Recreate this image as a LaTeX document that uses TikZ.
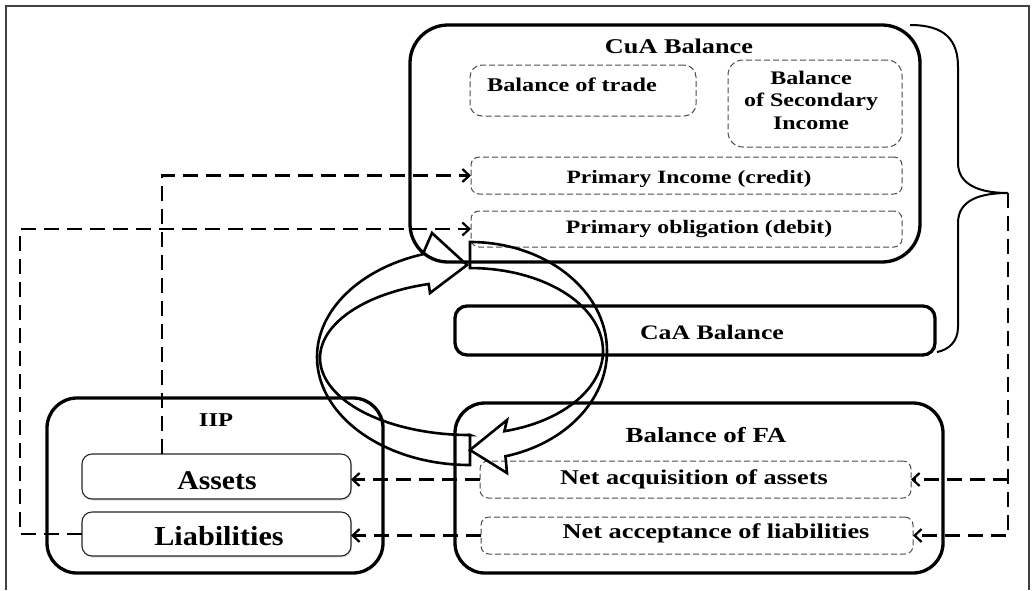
\documentclass[tikz,border=0pt]{standalone}
\usepackage{fontspec}
\setmainfont{Liberation Serif}
\newfontfamily\widea[FakeStretch=1.25]{Liberation Serif}
\newfontfamily\wideb[FakeStretch=1.1]{Liberation Serif}
\usetikzlibrary{arrows.meta,calc,shadows}

\begin{document}
\begin{tikzpicture}[x=1pt,y=-1pt,
  bigbox/.style={draw, line width=3.3pt, rounded corners=#1, inner sep=0pt, outer sep=0pt},
  bigbox/.default=30pt,
  dbox/.style={draw=black!70, line width=1pt, dash pattern=on 6pt off 3pt,
    rounded corners=#1, inner sep=0pt, outer sep=0pt},
  dbox/.default=8pt,
  sbox/.style={draw=black!85, line width=1.1pt, rounded corners=10pt, fill=white,
    inner sep=0pt, outer sep=0pt,
    drop shadow={opacity=0.25, shadow xshift=1.2pt, shadow yshift=-1.5pt}},
  lbl/.style={inner sep=0pt, anchor=base, text=black},
  conn/.style={line width=2.2pt, dash pattern=on 15pt off 8pt,
    -{Straight Barb[length=7pt,width=13pt]}},
  cyc/.style={line width=2.6pt, line join=miter},
]
\useasboundingbox (0,0) rectangle (1033,590);

% page frame
\draw[line width=1.5pt, black!75] (6,590) -- (6,6) -- (1029,6) -- (1029,590);

% current account
\node[bigbox=38pt, minimum width=510pt, minimum height=237pt] (cua) at (665,143.5) {};
\node[dbox=12pt, minimum width=226pt, minimum height=51pt] (bot) at (583,90.5) {};
\node[dbox=15pt, minimum width=174pt, minimum height=87pt] (bsi) at (815,103.5) {};
\node[dbox, minimum width=431pt, minimum height=37pt] (pic) at (686.5,175.5) {};
\node[dbox, minimum width=431pt, minimum height=36pt] (pob) at (686.5,229) {};

% capital account
\node[bigbox=12pt, minimum width=480pt, minimum height=49pt] (caa) at (695,330.5) {};

% international investment position
\node[bigbox=30pt, minimum width=336pt, minimum height=175pt] (iip) at (215,485.5) {};
\node[sbox, minimum width=269pt, minimum height=45pt] (assets) at (216.5,476.5) {};
\node[sbox, minimum width=269pt, minimum height=44pt] (liab) at (216.5,534) {};

% financial account
\node[bigbox=30pt, minimum width=488pt, minimum height=170pt] (fa) at (699,488) {};
\node[dbox, minimum width=431pt, minimum height=37pt] (nacq) at (695.5,479.5) {};
\node[dbox, minimum width=432pt, minimum height=37pt] (nacc) at (697,535.5) {};

% labels
\node[lbl, font=\widea\bfseries\fontsize{21}{24}\selectfont] (cuat) at (679,53) {CuA Balance};
\node[lbl, font=\widea\bfseries\fontsize{19.4}{22}\selectfont] (bott) at (572,91) {Balance of trade};
\node[font=\widea\bfseries\fontsize{19.2}{22.5}\selectfont, align=center, inner sep=0pt] (bsit) at (811,100) {Balance\\of Secondary\\Income};
\node[lbl, font=\widea\bfseries\fontsize{18.8}{22}\selectfont] (pict) at (689,183) {Primary Income (credit)};
\node[lbl, font=\widea\bfseries\fontsize{19}{22}\selectfont] (pobt) at (699,233) {Primary obligation (debit)};
\node[lbl, font=\widea\bfseries\fontsize{20.6}{24}\selectfont] (caat) at (712,339) {CaA Balance};
\node[lbl, font=\widea\bfseries\fontsize{19.6}{23}\selectfont] (iipt) at (216,426) {IIP};
\node[lbl, font=\wideb\bfseries\fontsize{27}{30}\selectfont] (at) at (217,489) {Assets};
\node[lbl, font=\wideb\bfseries\fontsize{27.5}{30}\selectfont] (lt) at (219,545) {Liabilities};
\node[lbl, font=\widea\bfseries\fontsize{21.5}{24}\selectfont] (fat) at (706,442) {Balance of FA};
\node[lbl, font=\widea\bfseries\fontsize{21}{24}\selectfont] (nacqt) at (694,484) {Net acquisition of assets};
\node[lbl, font=\widea\bfseries\fontsize{21.1}{24}\selectfont] (nacct) at (716,538) {Net acceptance of liabilities};

% brace grouping the current and capital accounts
\coordinate (tip) at (1008,193);
\draw[line width=2pt] (910,25) .. controls (945,25) and (958,40) .. (958,67)
  -- (958,163) .. controls (958,185) and (980,193) .. (tip)
  .. controls (980,193) and (958,200) .. (958,223)
  -- (958,327) .. controls (958,342) and (948,350) .. (937,352);

% dashed flows
\coordinate (lft) at (20,0);
\draw[conn] ([xshift=80pt]assets.north west) |- (pic.west);
\draw[conn] (liab.west) -- (liab.west -| lft) |- (pob.west);
\draw[conn] (nacq.west) -- (nacq.west -| assets.east);
\draw[conn] (nacc.west) -- (nacc.west -| liab.east);
\draw[conn] (tip) |- (nacc.east);
\draw[conn] (tip |- nacq.east) -- (nacq.east);

% circular arrows between the accounts
\draw[cyc] (470,435) -- (470,465)
  arc[start angle=90, end angle=252, x radius=153, y radius=108]
  -- (432,233) -- (467,265) -- (430,293) -- (428.7,284)
  arc[start angle=254, end angle=90, x radius=150, y radius=77] -- cycle;
\draw[cyc] (470,242)
  arc[start angle=270, end angle=435, x radius=137, y radius=109]
  -- (507,473) -- (470,450) -- (507,420) -- (504.4,431.2)
  arc[start angle=435, end angle=270, x radius=133, y radius=83] -- cycle;
\end{tikzpicture}
\end{document}
